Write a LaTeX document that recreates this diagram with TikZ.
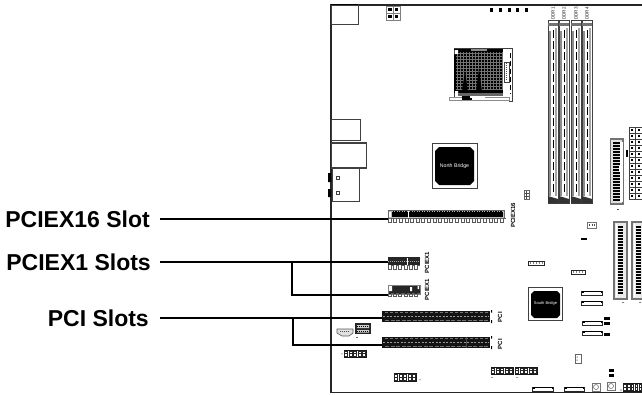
\documentclass[tikz,border=0pt]{standalone}
\usepackage{fontspec}
\setmainfont{Liberation Sans}
\newcommand{\hdr}[4]{%
  \draw[thin box,line width=.9pt,draw=black!90] (#1,#2) rectangle (#3,#4);
  \pgfmathsetmacro{\st}{(#3-#1)/5}
  \foreach \k in {0,...,4}{\draw[black!85,line width=.6pt,fill=white] (#1+\k*\st+.7,#2+1) rectangle (#1+\k*\st+\st-.7,#4-1);
    \draw[black!85,line width=.5pt] (#1+\k*\st+.7,#2/2+#4/2) -- (#1+\k*\st+\st-.7,#2/2+#4/2);}
}
\begin{document}
\begin{tikzpicture}[x=1pt,y=-1pt,
  callout/.style={font=\bfseries\fontsize{23}{23}\selectfont,inner ysep=0pt,inner xsep=10pt,anchor=east,text height=16pt,text depth=0pt},
  lead/.style={line width=2pt,black},
  edge/.style={line width=1pt,black!85},
  thin box/.style={draw=black!75,line width=.6pt,fill=white},
  tiny/.style={font=\bfseries\fontsize{6}{6}\selectfont,rotate=90,inner sep=0pt,black},
  ddrtxt/.style={font=\fontsize{4.6}{5}\selectfont,rotate=90,inner sep=0pt,black!90},
  chiptxt/.style={font=\fontsize{5.2}{6}\selectfont,text=white,inner sep=0pt}]
\useasboundingbox (0,0) rectangle (642,394);
% --- board outline and rear I/O
\draw[edge,line width=1.2pt] (642,5) -- (331,5) -- (331,392.5) -- (642,392.5);
\fill (331,4) rectangle (358,6.5);
\draw[thin box,line width=.9pt] (331,5) rectangle (358,24);
\draw[thin box,line width=.9pt] (331,119) rectangle (360,140);
\draw[thin box,line width=1.1pt] (331.5,143) rectangle (366.5,168);
\draw[thin box,line width=.9pt] (332,168) rectangle (359,201);
\fill (328,173) rectangle (331,182) (328,189) rectangle (331,197);
\draw[thin box] (336.5,176.5) rectangle (339.5,179.5) (336.5,191) rectangle (339.5,194);
% --- top header and dots
\draw[thin box,draw=black!50] (386,6) rectangle (400,20) (393,6) -- (393,20) (386,13) -- (400,13);
\foreach \x/\y in {388/8,394.5/8,388/14.5,394.5/14.5}{\fill (\x,\y) rectangle +(3.5,3);}
\foreach \x in {490,499,508,516,525}{\fill (\x,8) rectangle +(2.6,4.2);}
% --- CPU socket
\draw[thin box,line width=.8pt] (454,48) -- (512,48) -- (512,101) -- (509,101) -- (509,97) -- (454,97) -- cycle;
\draw[thin box,draw=black!45,line width=.9pt] (449,97.5) rectangle (509,100);
\fill[black] (454,48.5) rectangle (503,93);
\fill[black!60] (458,93) rectangle (503,96);
\fill[black] (462,96) rectangle (472,100);
\foreach \x in {457,460,...,502}{\draw[white!45!black,line width=.3pt] (\x,52) -- (\x,90);}
\foreach \y in {53,56,...,90}{\draw[white!45!black,line width=.3pt] (456,\y) -- (503,\y);}
\fill[black] (462,92) -- (465,70) -- (468,92) -- cycle (476,92) -- (479,68) -- (482,92) -- cycle;
\fill[white] (454.5,50) rectangle (458,54) (455,91) rectangle (458,94);
\fill[black!45] (471,48.5) rectangle (487,50.5);
\fill[white] (470,96) rectangle (485,98.2);
\draw[black,line width=.8pt,dash pattern=on 5pt off 3pt] (510,53) -- (510,94);
\draw[thin box] (504,62) rectangle (509,82);
\draw[black!70,line width=.5pt,dash pattern=on 1pt off 1pt] (506.5,63) -- (506.5,81);
% --- DIMM slots
\foreach \x/\n in {548/1,559/2,571/3,582/4}{
  \draw[thin box,line width=.7pt] (\x,20) rectangle (\x+10,203);
  \fill[black!55] (\x,22.5) rectangle (\x+10,26);
  \fill[black!80] (\x,196) -- (\x+10,199) -- (\x+10,203) -- (\x,203) -- cycle;
  \fill[black!45] (\x+1,31) rectangle (\x+3.2,196);
  \fill[black!35] (\x+6.8,28) rectangle (\x+9,196);
  \draw[black,line width=.7pt,dash pattern=on 8pt off 3pt] (\x+5.5,30) -- (\x+5.5,195);
  \node[ddrtxt] (ddr\n) at (\x+5,13.5) {DDR\n};
}
% --- ATX power
\foreach \y in {127,133,...,195}{
  \foreach \x in {629,635.5}{
    \draw[thin box,line width=.5pt] (\x,\y) rectangle (\x+6.5,\y+6);
    \fill (\x+2.3,\y+2) rectangle +(2,2);
  }
}
% --- floppy-like header
\draw[thin box,draw=black!55,line width=1.3pt,fill=black!12] (610.5,139) rectangle (623,204);
\fill[white] (620,142) rectangle (623,202);
\foreach \y in {142,145,...,199}{\fill (613,\y) rectangle (619.5,\y+2);}
\fill[white] (619.3,166) rectangle (621.5,172);
\fill (625.5,150) rectangle (628,157);
\fill[black!70] (616.5,208.5) rectangle (618.5,209.5);
% --- bridges
\draw[thin box,line width=.9pt] (432,143) rectangle (477,188);
\fill (439,147) -- (470,147) -- (474,151) -- (474,181) -- (470,185) -- (439,185) -- (435,181) -- (435,151) -- cycle;
\node[chiptxt] (nb) at (454.5,166) {North Bridge};
\draw[thin box,line width=.9pt] (528,287) rectangle (562,320);
\fill (534,291) -- (557,291) -- (560,294) -- (560,315) -- (557,318) -- (534,318) -- (531,315) -- (531,294) -- cycle;
\node[chiptxt,font=\fontsize{4}{5}\selectfont] (sb) at (545.5,303.5) {South Bridge};
% --- PCIEX16 slot
\node[draw=black!60,fill=black!25,line width=.5pt,minimum width=116pt,minimum height=8pt,inner sep=0pt,anchor=north west] (slotA) at (388,210) {};
\fill (391.5,211) rectangle (503,217);
\draw[white!70!black,line width=.4pt,dash pattern=on 1pt off 1.5pt] (389,211) -- (503,211);
\fill[white] (389,212) rectangle (391,217);
\fill[white] (408,211) rectangle (408.8,218);
\draw[black!65,line width=.55pt] (388,218) foreach \i in {0,...,20}{ -- ++(0,4) -- ++(3,0) -- ++(0,-4) -- ++(2.6,0)};
\node[tiny] (labA) at (513,215) {PCIEX16};
% --- PCIEX1 slots
\node[fill=black!85,minimum width=32pt,minimum height=8pt,inner sep=0pt,anchor=north west] (slotB) at (388,257) {};
\draw[white!65!black,line width=.5pt,dash pattern=on 1pt off 1pt] (388,261) -- (420,261);
\fill[white] (407,258) rectangle (408,265);
\draw[black!65,line width=.55pt] (388,265) foreach \i in {0,...,5}{ -- ++(0,4) -- ++(3,0) -- ++(0,-4) -- ++(2.3,0)};
\node[tiny] (labB) at (427,262.5) {PCIEX1};
\node[fill=black!85,draw=black!50,line width=.5pt,minimum width=32pt,minimum height=9pt,inner sep=0pt,anchor=north west] (slotC) at (388,284.5) {};
\fill[white] (389,286) rectangle (392,291) (410,287) rectangle (412,291) (417.5,286) rectangle (419,289);
\draw[black!65,line width=.55pt] (388,293.5) foreach \i in {0,...,5}{ -- ++(0,3) -- ++(3,0) -- ++(0,-3) -- ++(2.3,0)};
\node[tiny] (labC) at (427,289.5) {PCIEX1};
% --- PCI slots
\foreach \nm/\y in {slotD/311,slotE/337}{
  \node[fill=black!92,minimum width=108pt,minimum height=11pt,inner sep=0pt,anchor=north west] (\nm) at (382,\y) {};
  \draw[white!60!black,line width=.4pt,dash pattern=on 2pt off 1.5pt] (383,\y+5) -- (489,\y+5);
  \draw[white!45!black,line width=.3pt,dash pattern=on 3pt off 2pt] (385,\y+1.5) -- (489,\y+1.5);
  \draw[white!45!black,line width=.3pt,dash pattern=on 4pt off 1.5pt] (385,\y+9) -- (489,\y+9);
  \fill (491,\y-1) rectangle (492,\y+1.5) (491,\y+9) rectangle (492,\y+12);
}
\fill[white!30!black] (466,337) rectangle (466.7,348);
\node[tiny] (labD) at (500,317) {PCI};
\node[tiny] (labE) at (500,344) {PCI};
% --- small headers
\hdr{344}{350}{366}{357}
\hdr{394}{373}{416}{381}
\hdr{491}{367}{513}{374}
\hdr{515}{367}{537}{374}
\hdr{623}{383}{642}{391}
\fill[black!60] (341,353.5) rectangle (343,354.2) (419,379.5) rectangle (421,380.2) (491,377) rectangle (493,377.7) (516,377) rectangle (518,377.7) (620.5,389) rectangle (621.3,391);
% fan connector and header beside PCI
\draw[thin box,draw=black!65,fill=black!12] (337,329) -- (353,329) -- (353,333) -- (349,336) -- (342,336) -- (337,333) -- cycle;
\draw[black!70,line width=.4pt,dash pattern=on 1pt off 1pt] (340,331) -- (350,331);
\fill[black!85] (355,323) rectangle (371,334);
\fill[white!80!black] (357,325) rectangle (369,328) (357,330) rectangle (369,332.5);
\draw[black,line width=.4pt,dash pattern=on 1pt off 1pt] (357,326.5) -- (369,326.5) (357,331.2) -- (369,331.2);
\fill[black!60] (355.5,336.5) rectangle (357.5,337.3);
% --- SATA connectors
\foreach \x/\y/\w in {581/291/21,581/301/21,582/321/20,582/331/20,532/387/21,564/387/20}{
  \draw[thin box,line width=1pt,draw=black!85] (\x,\y) rectangle (\x+\w,\y+4.5);
  \fill (\x+.8,\y) rectangle (\x+\w,\y+1.5);
  \fill[white] (\x+3,\y+1.4) rectangle (\x+\w-1,\y+3.5);
}
% --- black jumpers
\foreach \x/\y/\w/\h in {604/317/6/2.8,604/322/6/2.8,604/333/6/2.5,609/369/5/3,609/374/5/3,581/238/6/2.4}{
  \fill (\x,\y) rectangle +(\w,\h);
}
% --- IDE connectors
\foreach \x/\r in {614/627,632/646}{
  \draw[thin box,draw=black!55,line width=1.1pt,fill=black!8] (\x,222) rectangle (\r,299);
  \foreach \y in {226,229,...,294}{\fill (\x+4,\y) rectangle (\x+9,\y+2);}
  \fill[white] (\x+1.5,224) rectangle (\x+3,297);
}
\fill[black!50] (622,302) rectangle (624,302.8) (639,302) rectangle (641,302.8);
% --- small outlined parts
\draw[thin box,draw=black!85,line width=.9pt] (528,261) rectangle (544,265.5);
\draw[thin box,draw=black!85,line width=.9pt] (571,270) rectangle (585,274.5);
\foreach \x in {530,533,...,542}{\fill[black!50] (\x,262.3) rectangle +(1.4,2);}
\foreach \x in {573,576,...,583}{\fill[black!50] (\x,271.3) rectangle +(1.4,2);}
\draw[thin box,draw=black!55] (587.5,222.5) rectangle (596,228);
\foreach \x in {589,591.5,594}{\fill[black!70] (\x,224) rectangle +(1.2,2);}
\draw[thin box,draw=black!60] (575,354.5) rectangle (581,363);
\fill[black!70] (576.5,356.5) rectangle +(1.2,1.2) (576.5,359.5) rectangle +(1.2,1.2);
\draw[thin box,draw=black!60] (524,190.5) rectangle (529,199);
\draw[black!70,line width=.5pt] (526,191) -- (526,198.5) (524.5,193) -- (528.5,193) (524.5,196) -- (528.5,196);
\foreach \x/\y in {592/383,607/382}{
  \draw[thin box,draw=black!55,line width=.7pt] (\x,\y) rectangle (\x+8,\y+8);
  \draw[black!55,line width=.6pt] (\x+4,\y+4) circle (2.5);
}
% --- callouts and leaders
\node[callout] (cA) at (160,219) {PCIEX16 Slot};
\node[callout] (cB) at (161,262) {PCIEX1 Slots};
\node[callout] (cC) at (159,318) {PCI Slots};
\coordinate (sA) at (160,219);
\coordinate (sB) at (160,262);
\coordinate (sC) at (160,318);
\coordinate (pA) at (slotA.west |- sA);
\coordinate (pB) at (slotB.west |- sB);
\coordinate (pC) at (388,295);
\coordinate (pD) at (slotD.west |- sC);
\coordinate (pE) at (382,345);
\coordinate (bB) at (292,262);
\coordinate (bC) at (293,318);
\draw[lead] (sA) -- (pA);
\draw[lead] (sB) -- (pB);
\draw[lead] (bB) |- (pC);
\draw[lead] (sC) -- (pD);
\draw[lead] (bC) |- (pE);
\end{tikzpicture}
\end{document}
